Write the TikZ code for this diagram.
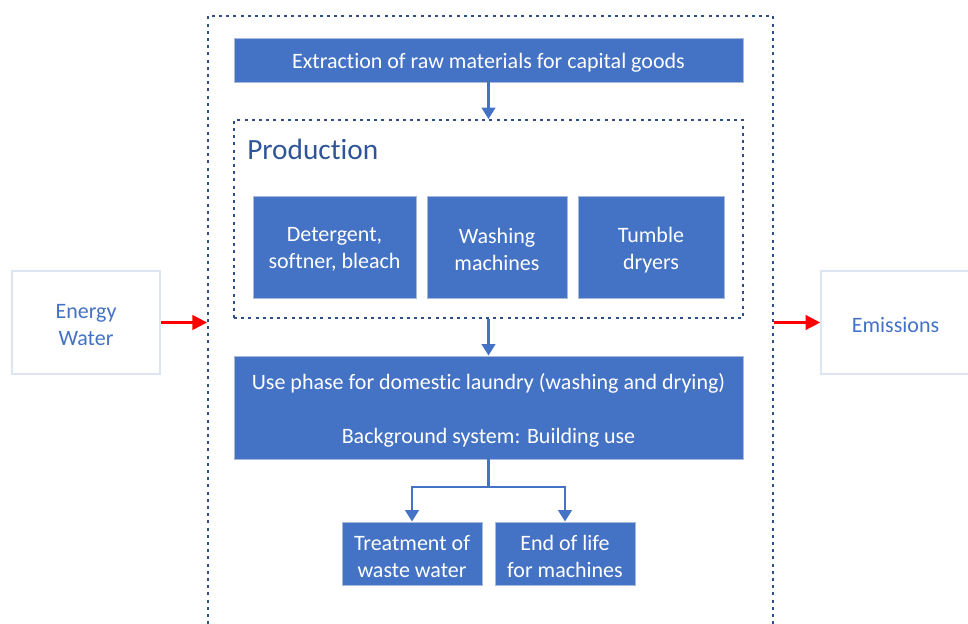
\documentclass[tikz,border=0pt]{standalone}
\usepackage{fontspec}
\setmainfont{Carlito}[Ligatures=NoCommon]
\usetikzlibrary{arrows.meta,calc}
\definecolor{boxblue}{HTML}{4472C4}
\definecolor{boxedge}{HTML}{A9B9DA}
\definecolor{dotblue}{HTML}{2F4F8A}
\definecolor{paleedge}{HTML}{DDE4F2}
\definecolor{prodtext}{HTML}{2F5597}
\newcommand{\lowr}[1]{\raisebox{-2pt}[\height][\depth]{#1}}
\tikzset{
  bluebox/.style={rectangle, fill=boxblue, draw=boxedge, line width=0.7pt, text=white, inner sep=0pt, align=center,
    font=\fontsize{16.5}{20.25}\selectfont},
  palebox/.style={rectangle, fill=white, draw=paleedge, line width=1.2pt, text=boxblue, inner sep=0pt, align=center,
    font=\fontsize{16.5}{20.25}\selectfont},
  dotbox/.style={rectangle, draw=dotblue, line width=1.4pt, dash pattern=on 2.3pt off 3.1pt, inner sep=0pt},
  bluearrow/.style={draw=boxblue, line width=2pt, -{Triangle[width=10pt,length=8.5pt]}},
  bluelink/.style={draw=boxblue, line width=2pt},
  redarrow/.style={draw=red, line width=1.8pt, -{Triangle[width=11pt,length=11pt]}}
}
\begin{document}
\begin{tikzpicture}[x=0.75pt,y=-0.75pt]
\useasboundingbox (0,0) rectangle (968,624);
\clip (0,0) rectangle (968,624);
\fill[white] (0,0) rectangle (968,624);

% outer system boundary (bottom edge lies below the picture)
\node[dotbox, minimum width=423.75pt, minimum height=486pt] (outer) at (490.5,340) {};

% top box
\node[bluebox, minimum width=381.75pt, minimum height=33pt] (extr) at (488.5,60) {\lowr{Extraction of raw materials for capital goods}};

% production group
\node[dotbox, minimum width=381.75pt, minimum height=148.5pt] (prod) at (488.5,219) {};
\node[anchor=west, inner sep=0pt, text=prodtext, font=\fontsize{22}{26}\selectfont] (prodlabel) at (247,149) {Production};

\node[bluebox, minimum width=122.25pt, minimum height=76.5pt] (det) at (334.5,247) {\lowr{Detergent,}\\\lowr{softner, bleach}};
\node[bluebox, minimum width=105pt, minimum height=76.5pt] (wash) at (497,247) {\lowr{Washing}\\\lowr{machines}};
\node[bluebox, minimum width=109.5pt, minimum height=76.5pt] (tumble) at (651,247) {\lowr{Tumble}\\\lowr{dryers}};

% use phase
\node[bluebox, minimum width=381.75pt, minimum height=77.25pt] (use) at (488.5,407.5) {\lowr{Use phase for domestic laundry (washing and drying)}\\[20.25pt]\lowr{Background system: Building use}};

% end boxes
\node[bluebox, minimum width=105pt, minimum height=47.25pt] (treat) at (412,553.5) {\lowr{Treatment of}\\\lowr{waste water}};
\node[bluebox, minimum width=105pt, minimum height=47.25pt] (eol) at (565,553.5) {\lowr{End of life}\\\lowr{for machines}};

% side boxes
\node[palebox, minimum width=111pt, minimum height=77.25pt] (energy) at (86,322.5) {\lowr{Energy}\\\lowr{Water}};
\node[palebox, minimum width=111.75pt, minimum height=77.25pt, text width=111.75pt] (emis) at (895.5,322.5) {\lowr{Emissions}};

% connectors
\draw[bluearrow] (extr.south) -- (prod.north);
\draw[bluearrow] (prod.south) -- (use.north);
\coordinate (branch) at (488.5,487);
\draw[bluelink] (use.south) -- (branch);
\draw[bluearrow] (branch) -| (treat.north);
\draw[bluearrow] (branch) -| (eol.north);

\draw[redarrow] (energy.east) -- (energy.east -| outer.west);
\draw[redarrow] (outer.east |- emis.west) -- (emis.west);
\end{tikzpicture}
\end{document}
